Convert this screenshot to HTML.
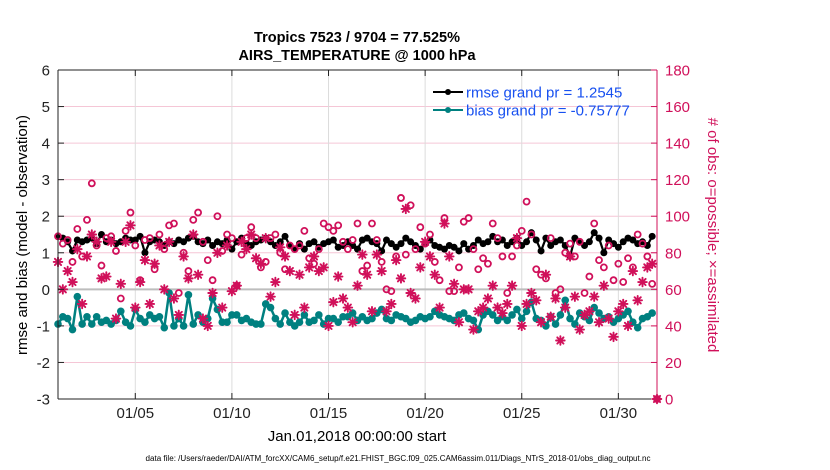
<!DOCTYPE html>
<html><head><meta charset="utf-8"><style>
html,body{margin:0;padding:0;background:#fff;}
svg{display:block;font-family:"Liberation Sans",sans-serif;}
</style></head><body>
<svg id="chart" width="830" height="470" viewBox="0 0 830 470">
<text x="357" y="42" text-anchor="middle" font-size="14.5" font-weight="bold">Tropics 7523 / 9704 = 77.525%</text>
<text x="357" y="60" text-anchor="middle" font-size="14.5" font-weight="bold">AIRS_TEMPERATURE @ 1000 hPa</text>
<g id="grid"></g>
<g id="series"></g>
<g id="axes"></g>
<g>
<line x1="433" y1="92" x2="463" y2="92" stroke="#000" stroke-width="2"/><circle cx="448" cy="92" r="3" fill="#000"/>
<text x="466" y="97.5" font-size="15" fill="#1750f0">rmse grand pr = 1.2545</text>
<line x1="433" y1="110" x2="463" y2="110" stroke="#008080" stroke-width="2"/><circle cx="448" cy="110" r="3" fill="#008080"/>
<text x="466" y="115.5" font-size="15" fill="#1750f0">bias grand pr = -0.75777</text>
</g>
<text transform="translate(27,235) rotate(-90)" text-anchor="middle" font-size="15">rmse and bias (model - observation)</text>
<text transform="translate(708,235) rotate(90)" text-anchor="middle" font-size="15" fill="#d0105a"># of obs: o=possible; ×=assimilated</text>
<text x="357" y="441" text-anchor="middle" font-size="15">Jan.01,2018 00:00:00 start</text>
<text x="398" y="461" text-anchor="middle" font-size="8" textLength="505" lengthAdjust="spacingAndGlyphs">data file: /Users/raeder/DAI/ATM_forcXX/CAM6_setup/f.e21.FHIST_BGC.f09_025.CAM6assim.011/Diags_NTrS_2018-01/obs_diag_output.nc</text>
</svg>
<script>
const rmse=[1.45,1.40,1.30,1.05,1.35,1.30,1.35,1.40,1.25,1.50,1.30,1.35,1.25,1.30,1.40,1.35,1.35,1.45,1.00,1.30,1.35,1.30,1.20,1.30,1.25,1.35,1.30,1.40,1.45,1.30,1.25,1.35,1.20,1.30,1.25,1.35,1.10,1.30,1.40,1.25,1.20,1.30,1.35,1.40,1.30,1.20,1.30,1.45,1.20,1.10,1.25,1.10,1.25,1.30,1.15,1.25,1.30,1.35,1.15,1.20,1.30,1.20,1.10,1.35,1.40,1.30,1.25,1.05,1.35,1.25,1.15,1.25,1.40,1.30,1.20,1.10,1.25,1.35,1.20,1.15,1.10,1.20,1.15,1.05,1.25,1.10,1.20,1.35,1.25,1.30,1.45,1.30,1.35,1.20,1.30,1.40,1.20,1.30,1.55,1.35,1.05,1.40,1.20,1.30,1.35,1.20,0.90,1.40,1.30,1.20,1.30,1.55,1.40,1.00,1.35,1.25,1.15,1.30,1.40,1.35,1.25,1.30,1.20,1.45];
const bias=[-0.95,-0.75,-0.80,-1.10,-0.20,-0.95,-0.75,-0.95,-0.75,-0.90,-0.85,-0.95,-0.85,-0.60,-0.90,-1.00,-0.55,-0.80,-0.90,-0.70,-0.80,-0.75,-1.05,-0.10,-1.00,-0.80,-1.00,-0.15,-0.95,-0.70,-0.90,-0.80,-0.25,-0.55,-0.90,-0.90,-0.70,-0.70,-0.85,-0.80,-0.90,-0.95,-0.95,-0.40,-0.50,-0.80,-0.95,-0.65,-0.90,-1.00,-0.90,-0.70,-0.90,-0.85,-0.70,-0.95,-0.80,-0.80,-0.90,-0.75,-0.75,-0.65,-0.85,-0.75,-0.85,-0.80,-0.65,-0.55,-0.80,-0.85,-0.70,-0.75,-0.80,-0.90,-0.85,-0.75,-0.80,-0.75,-0.60,-0.70,-0.75,-0.80,-0.85,-0.70,-0.65,-0.80,-0.85,-1.10,-0.70,-0.60,-0.70,-0.85,-0.75,-0.85,-0.70,-0.55,-0.80,-0.60,-0.35,-0.80,-0.85,-1.00,-0.75,-0.95,-0.70,-0.30,-0.80,-0.95,-0.65,-0.75,-0.85,-0.50,-0.65,-0.80,-0.75,-0.90,-0.80,-0.70,-0.60,-0.90,-1.05,-0.80,-0.75,-0.65];
const possible=[89,85,87,75,93,78,98,118,84,73,88,89,81,55,92,102,84,65,87,88,71,90,82,95,96,58,80,70,98,102,86,76,65,100,81,90,88,62,79,88,94,88,72,75,88,90,80,71,84,82,84,92,77,74,82,96,94,92,95,86,82,87,96,70,73,96,87,75,60,59,78,110,79,106,82,94,85,90,75,65,99,59,59,72,97,99,82,71,77,74,96,88,78,58,78,84,92,108,90,71,68,66,88,58,60,80,85,78,86,58,67,96,76,72,84,65,74,64,77,72,90,85,78,63,0];
const assimilated=[75,60,70,64,82,52,78,90,86,66,67,86,44,63,86,95,50,64,76,52,74,84,60,86,55,46,78,66,90,68,44,40,58,80,50,84,59,62,86,82,90,77,74,88,56,64,83,78,70,46,68,50,72,78,70,72,40,53,67,55,50,42,62,79,68,48,79,70,48,52,76,66,104,58,55,72,86,78,68,50,96,78,63,42,60,60,38,48,50,55,62,50,47,52,62,88,40,52,58,54,42,68,45,55,32,50,78,56,38,46,48,56,42,62,44,34,48,52,40,70,54,64,72,74,0];
const leftTicks=[-3,-2,-1,0,1,2,3,4,5,6];
const rightTicks=[0,20,40,60,80,100,120,140,160,180];
const dayTicks=[5,10,15,20,25,30];
const dayLabels=["01/05","01/10","01/15","01/20","01/25","01/30"];

const X0=58,X1=657,Y0=70,Y1=399,DAYS=31;
const xs=d=>X0+(d/DAYS)*(X1-X0);
const yl=v=>Y1-(v+3)/9*(Y1-Y0);
const yr=v=>Y1-v/180*(Y1-Y0);
const NS="http://www.w3.org/2000/svg";
const RED="#d0105a";
function mk(tag,attrs,parent){const e=document.createElementNS(NS,tag);for(const k in attrs)e.setAttribute(k,attrs[k]);parent.appendChild(e);return e;}
const grid=document.getElementById('grid'),ser=document.getElementById('series'),ax=document.getElementById('axes');

rightTicks.forEach(v=>{const l=mk('line',{x1:X0,x2:X1,y1:yr(v),y2:yr(v),stroke:'#f5c6d6','stroke-width':1},grid);

});
dayTicks.forEach(d=>{const l=mk('line',{x1:xs(d-1),x2:xs(d-1),y1:Y0,y2:Y1,stroke:'#dcdcdc','stroke-width':1},grid);

});
const zl=mk('line',{x1:X0,x2:X1,y1:yl(0),y2:yl(0),stroke:'#bdbdbd','stroke-width':2},grid);



function series(vals,color,name,r,w){
 const pts=vals.map((v,i)=>xs(i*0.25)+','+yl(v)).join(' ');
 const p=mk('polyline',{points:pts,fill:'none',stroke:color,'stroke-width':w,'stroke-linejoin':'round'},ser);
 
 
 vals.forEach((v,i)=>{const c=mk('circle',{cx:xs(i*0.25),cy:yl(v),r:r,fill:color},ser);
 
 });
}
series(rmse,'#000','rmse',3.5,2.2);
series(bias,'#008080','bias',3.8,2.5);

possible.forEach((v,i)=>{const c=mk('circle',{cx:xs(i*0.25),cy:yr(v),r:3,fill:'none',stroke:RED,'stroke-width':1.8},ser);

});
assimilated.forEach((v,i)=>{const cx=xs(i*0.25),cy=yr(v);
 const g=mk('g',{stroke:RED,'stroke-width':1.9,'stroke-linecap':'round'},ser);
 
 
 const s=4.3,t=3.1;
 mk('line',{x1:cx-s,x2:cx+s,y1:cy,y2:cy},g);mk('line',{x1:cx,x2:cx,y1:cy-s,y2:cy+s},g);
 mk('line',{x1:cx-t,x2:cx+t,y1:cy-t,y2:cy+t},g);mk('line',{x1:cx-t,x2:cx+t,y1:cy+t,y2:cy-t},g);});

[['line',{x1:X0,x2:X1,y1:Y0,y2:Y0,stroke:'#222','stroke-width':1},'top-border'],
 ['line',{x1:X0,x2:X1,y1:Y1,y2:Y1,stroke:'#222','stroke-width':1},'x-axis'],
 ['line',{x1:X0,x2:X0,y1:Y0,y2:Y1,stroke:'#222','stroke-width':1},'y-axis-left'],
 ['line',{x1:X1,x2:X1,y1:Y0,y2:Y1,stroke:RED,'stroke-width':1},'y-axis-right']].forEach(a=>{
 const e=mk(a[0],a[1],ax);
 
 });
leftTicks.forEach(v=>{const y=yl(v);mk('line',{x1:X0,x2:X0+6,y1:y,y2:y,stroke:'#222'},ax);
 const t=mk('text',{x:X0-8,y:y+5.5,'text-anchor':'end','font-size':15,fill:'#222'},ax);t.textContent=v;
 
 });
rightTicks.forEach(v=>{const y=yr(v);mk('line',{x1:X1-6,x2:X1,y1:y,y2:y,stroke:RED},ax);
 const t=mk('text',{x:X1+8,y:y+5.5,'font-size':15,fill:RED},ax);t.textContent=v;
 
 });
dayTicks.forEach((d,i)=>{const x=xs(d-1);mk('line',{x1:x,x2:x,y1:Y1,y2:Y1-6,stroke:'#222'},ax);mk('line',{x1:x,x2:x,y1:Y0,y2:Y0+6,stroke:'#222'},ax);
 const t=mk('text',{x:x,y:Y1+19,'text-anchor':'middle','font-size':15,fill:'#222'},ax);t.textContent=dayLabels[i];
 
 });
</script>
</body></html>
